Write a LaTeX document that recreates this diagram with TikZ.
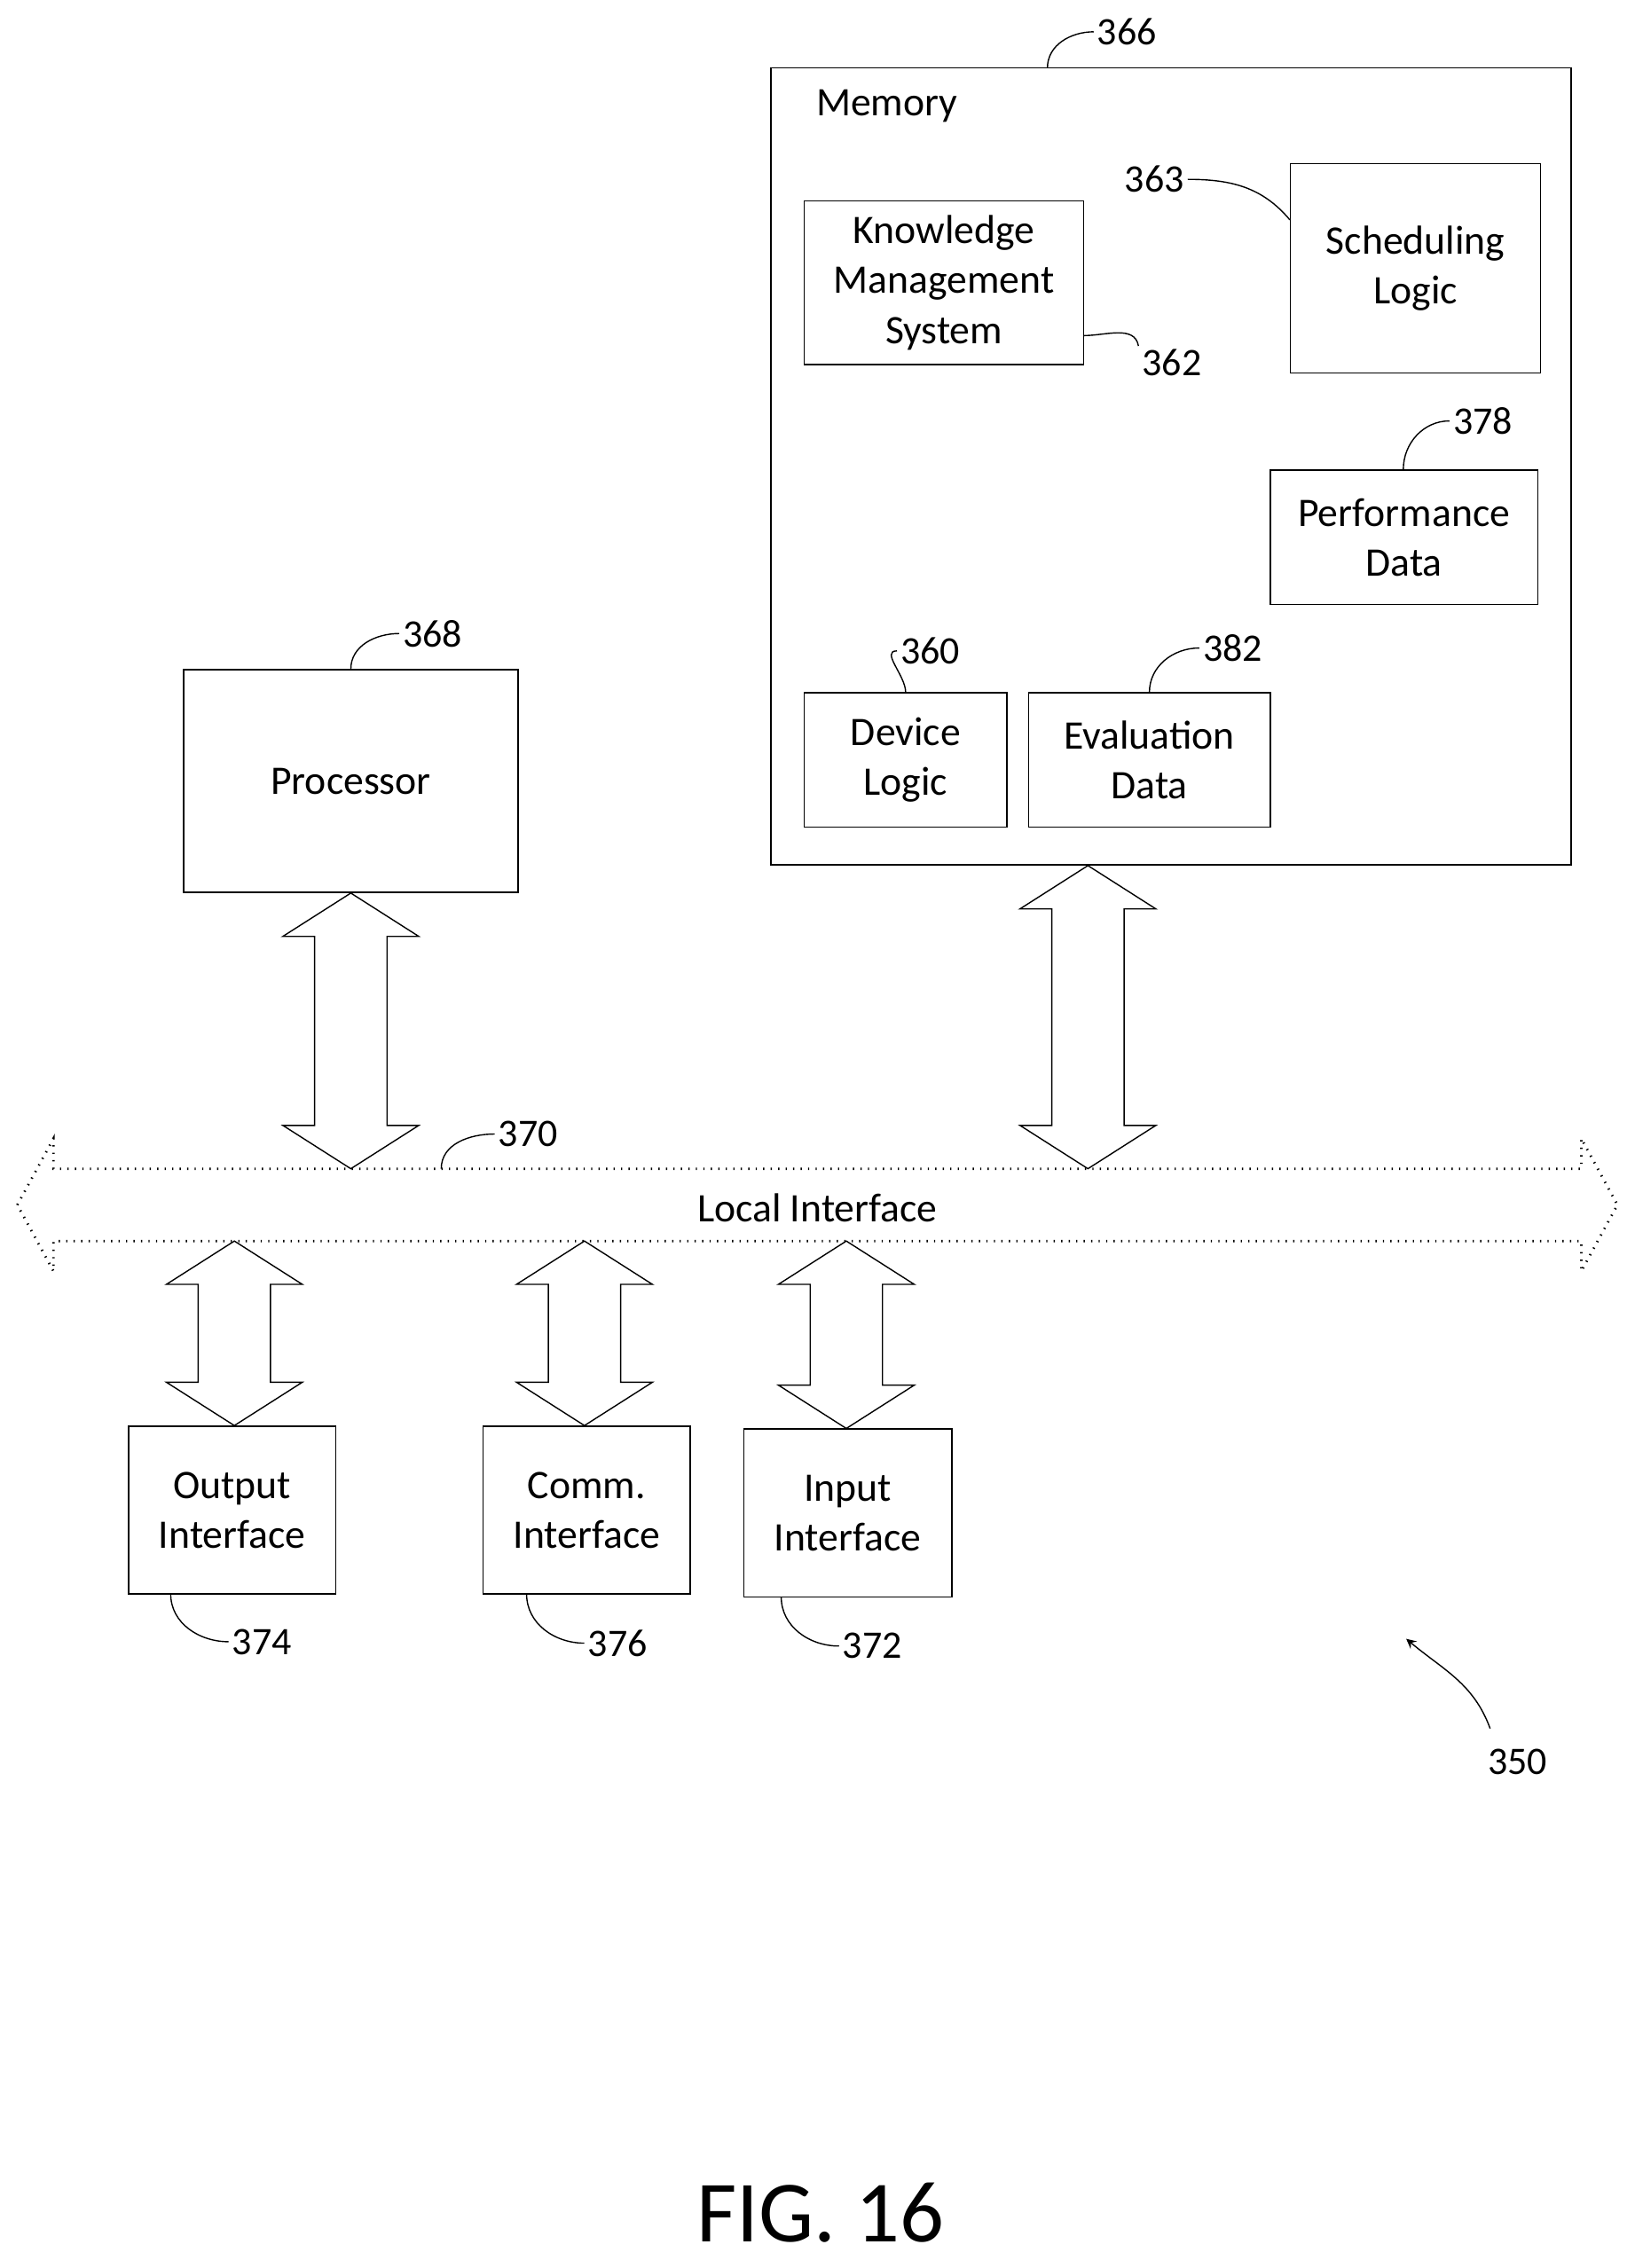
\documentclass[tikz,border=0pt]{standalone}
\usepackage{fontspec}
\setmainfont{Carlito}
\usetikzlibrary{calc}
\tikzset{
  blk/.style={draw, thin, align=center, font=\fontsize{13}{16}\selectfont, inner sep=0pt},
  num/.style={font=\fontsize{12.5}{15}\selectfont, inner sep=1pt},
  lead/.style={draw, thin},
  fat/.style={draw, thin, fill=white},
}
% vertical block arrow, tips at #1 (top) and #2 (bottom)
\newcommand{\vdbl}[2]{%
  \path[fat] let \p1=(#1), \p2=(#2) in
    (\x1,\y1) -- (\x1+21.8pt,\y1-13.9pt) -- (\x1+11.6pt,\y1-13.9pt)
    -- (\x1+11.6pt,\y2+13.9pt) -- (\x1+21.8pt,\y2+13.9pt) -- (\x1,\y2)
    -- (\x1-21.8pt,\y2+13.9pt) -- (\x1-11.6pt,\y2+13.9pt)
    -- (\x1-11.6pt,\y1-13.9pt) -- (\x1-21.8pt,\y1-13.9pt) -- cycle;}
\begin{document}
\begin{tikzpicture}[x=0.01631cm, y=-0.01631cm]
  \useasboundingbox (0,0) rectangle (1130,1568);
  % Memory
  \node[blk, minimum width=553*0.01631cm, minimum height=551*0.01631cm] (mem) at (809.5,322.5) {};
  \node[blk, draw=none] (memlbl) at (613,73) {Memory};
  \node[blk, minimum width=193*0.01631cm, minimum height=113*0.01631cm] (kms) at (652.5,195.5) {Knowledge\\Management\\System};
  \node[blk, minimum width=173*0.01631cm, minimum height=145*0.01631cm] (sched) at (978.5,185.5) {Scheduling\\Logic};
  \node[blk, minimum width=185*0.01631cm, minimum height=93*0.01631cm] (perf) at (970.5,371.5) {Performance\\Data};
  \node[blk, minimum width=140*0.01631cm, minimum height=93*0.01631cm] (dev) at (626,525.5) {Device\\Logic};
  \node[blk, minimum width=167*0.01631cm, minimum height=93*0.01631cm] (eval) at (794.5,525.5) {Evaluation\\Data};
  % Processor and interfaces
  \node[blk, minimum width=231*0.01631cm, minimum height=154*0.01631cm] (proc) at (242.5,540) {Processor};
  \node[blk, minimum width=143*0.01631cm, minimum height=116*0.01631cm] (outif) at (160.5,1044) {Output\\Interface};
  \node[blk, minimum width=143*0.01631cm, minimum height=116*0.01631cm] (commif) at (405.5,1044) {Comm.\\Interface};
  \node[blk, minimum width=144*0.01631cm, minimum height=116*0.01631cm] (inif) at (586,1046) {Input\\Interface};

  % Local interface bus
  \coordinate (busL) at (12,833);
  \coordinate (busR) at (1118,833);
  \path[fat, dotted, thick] let \p1=(busL), \p2=(busR) in
    (\x1,\y1) -- (\x1+11.6pt,\y1+21.3pt) -- (\x1+11.6pt,\y1+11.6pt)
    -- (\x2-11.6pt,\y1+11.6pt) -- (\x2-11.6pt,\y1+21.3pt) -- (\x2,\y2)
    -- (\x2-11.6pt,\y1-21.3pt) -- (\x2-11.6pt,\y1-11.6pt)
    -- (\x1+11.6pt,\y1-11.6pt) -- (\x1+11.6pt,\y1-21.3pt) -- cycle;
  \node[blk, draw=none] (bus) at (565,835) {Local Interface};

  \coordinate (busP) at (243,808);
  \coordinate (busM) at (752,808);
  \coordinate (busO) at (162,858);
  \coordinate (busC) at (404,858);
  \coordinate (busI) at (585,858);
  \vdbl{proc.south}{busP}
  \vdbl{mem.south -| busM}{busM}
  \vdbl{busO}{outif.north -| busO}
  \vdbl{busC}{commif.north -| busC}
  \vdbl{busI}{inif.north -| busI}

  % Reference numerals
  \node[num] (n366) at (779,22) {366};
  \node[num] (n363) at (798,124) {363};
  \node[num] (n362) at (810,251) {362};
  \node[num] (n378) at (1025,291) {378};
  \node[num] (n360) at (643,450) {360};
  \node[num] (n382) at (852,448) {382};
  \node[num] (n368) at (299,438) {368};
  \node[num] (n370) at (365,784) {370};
  \node[num] (n374) at (181,1135) {374};
  \node[num] (n376) at (427,1136) {376};
  \node[num] (n372) at (603,1138) {372};
  \node[num] (n350) at (1049,1218) {350};
  \draw[lead] (724,47) to[out=-90+180,in=180] (n366.west);
  \draw[lead] (n363.east) to[out=0,in=130] (sched.west |- 0,152);
  \draw[lead] (kms.east |- 0,232) to[out=0,in=100] (n362.north west);
  \draw[lead] (perf.north -| 970,0) to[out=90,in=180] (n378.west);
  \draw[lead] (dev.north) to[out=90,in=180] (n360.west);
  \draw[lead] (eval.north) to[out=90,in=180] (n382.west);
  \draw[lead] (proc.north) to[out=90,in=180] (n368.west);
  \draw[lead] (305,808) to[out=90,in=180] (n370.west);
  \draw[lead] (118,1102) to[out=-90,in=180] (n374.west);
  \draw[lead] (364,1102) to[out=-90,in=180] (n376.west);
  \draw[lead] (540,1104) to[out=-90,in=180] (n372.west);
  \coordinate (a350) at (972,1133);
  \draw[lead, -stealth] (1030,1195) to[out=110,in=-40] (a350);

  \node[font=\fontsize{28}{32}\selectfont] (fig) at (567,1530) {FIG. 16};
\end{tikzpicture}
\end{document}
